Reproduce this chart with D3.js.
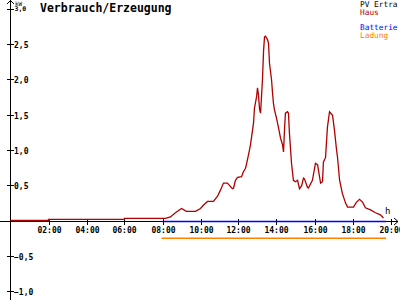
<!DOCTYPE html>
<html><head><meta charset="utf-8">
<script src="https://cdn.jsdelivr.net/npm/d3@7"></script>
<style>html,body{margin:0;padding:0;background:#fff;}svg{display:block;}</style>
</head><body>
<script>
// ---- data ----
const hausTime = [0,2,2,6,6,8.16,8.42,8.68,9.0,9.26,9.74,10.0,10.16,10.37,10.68,10.89,11.05,11.21,11.42,11.58,11.68,11.74,11.84,11.95,12.16,12.26,12.37,12.47,12.58,12.63,12.79,12.84,12.95,13.0,13.05,13.11,13.16,13.21,13.26,13.32,13.37,13.42,13.53,13.58,13.63,13.74,13.79,13.84,13.89,14.0,14.11,14.21,14.32,14.37,14.42,14.47,14.58,14.63,14.68,14.79,14.89,15.0,15.11,15.21,15.32,15.42,15.47,15.63,15.68,15.89,16.05,16.16,16.32,16.42,16.47,16.58,16.68,16.79,16.95,17.05,17.16,17.21,17.32,17.47,17.63,17.74,18.05,18.21,18.37,18.53,18.68,18.95,19.21,19.47,19.63];
const hausKW   = [0,0,0.015,0.015,0.03,0.03,0.05,0.11,0.17,0.13,0.13,0.17,0.22,0.27,0.27,0.34,0.43,0.53,0.53,0.48,0.45,0.46,0.57,0.61,0.62,0.69,0.74,0.86,1.0,1.07,1.38,1.59,1.75,1.88,1.78,1.57,1.52,1.75,1.99,2.41,2.6,2.61,2.56,2.51,2.23,1.99,1.81,1.66,1.57,1.45,1.31,1.17,1.07,0.97,1.28,1.52,1.54,1.52,1.24,0.81,0.57,0.55,0.57,0.45,0.49,0.6,0.59,0.47,0.46,0.57,0.81,0.79,0.53,0.55,0.83,0.89,1.32,1.54,1.49,1.28,1.0,0.9,0.57,0.38,0.25,0.19,0.19,0.26,0.3,0.26,0.18,0.15,0.11,0.08,0.035];
const batterieTime = [8.0, 19.77];
const batterieKW   = [0, 0];
const ladungTime = [7.95, 19.77];
const ladungKW   = [-0.25, -0.25];
const yTicks = [-1.0,-0.5,0.5,1.0,1.5,2.0,2.5,3.0];
const xTicks = [2,4,6,8,10,12,14,16,18,20];
const legendNames = ["PV Ertra","Haus","Batterie","Ladung"];
const legendColors = ["#000000","#b00000","#0000ff","#ff8000"];
const title = "Verbrauch/Erzeugung";

// ---- chart ----
const W=400,H=300;
const svg=d3.select("body").append("svg").attr("width",W).attr("height",H);
const x=d3.scaleLinear().domain([0,20]).range([10.5,390.5]);
const y=d3.scaleLinear().domain([-1,3]).range([291.1,8.7]);
const mono="'DejaVu Sans Mono', monospace";

// axes
const ax=svg.append("g").attr("stroke","#000").attr("stroke-width",1).attr("shape-rendering","crispEdges");
ax.append("line").attr("x1",10.5).attr("x2",10.5).attr("y1",0).attr("y2",H);
const y0=Math.round(y(0))+0.5;
ax.append("line").attr("x1",0).attr("x2",398).attr("y1",y0).attr("y2",y0);
// arrows
svg.append("path").attr("d","M7,4L10.5,0.5L14,4").attr("fill","none").attr("stroke","#000");
svg.append("path").attr("d",`M394,${y0-3.5}L398,${y0}L394,${y0+3.5}`).attr("fill","none").attr("stroke","#000");

// y ticks
yTicks.forEach(v=>{
  const yy=Math.round(y(v))+0.5;
  ax.append("line").attr("x1",7).attr("x2",14).attr("y1",yy).attr("y2",yy);
  if(v!==3) svg.append("text").attr("x",14).attr("y",yy+3).attr("font-family",mono).attr("font-size",8).attr("font-weight","bold")
    .text(d3.format(".1f")(v).replace(".",","));
});
// x ticks
xTicks.forEach(t=>{
  const xx=Math.round(x(t))+0.5;
  ax.append("line").attr("x1",xx).attr("x2",xx).attr("y1",y0-3).attr("y2",y0+3);
  svg.append("text").attr("x",xx).attr("y",y0+11).attr("text-anchor","middle").attr("font-family",mono).attr("font-size",8).attr("font-weight","bold")
    .text(String(t).padStart(2,"0")+":00");
});
// top label kW / 3,0
svg.append("text").attr("x",15).attr("y",5.5).attr("font-family",mono).attr("font-size",6).text("kW");
svg.append("text").attr("x",14.5).attr("y",11).attr("font-family",mono).attr("font-size",6.5).attr("font-weight","bold").text("3,0");
svg.append("text").attr("x",385).attr("y",214).attr("font-family",mono).attr("font-size",9).text("h");

// title
svg.append("text").attr("x",40).attr("y",11.5).attr("font-family",mono).attr("font-size",11.5).attr("font-weight","bold").text(title);

// series
const line=d3.line().x(d=>x(d[0])).y(d=>y(d[1]));
svg.append("path").datum(ladungTime.map((t,i)=>[t,ladungKW[i]])).attr("d",line).attr("fill","none").attr("stroke",legendColors[3]).attr("stroke-width",1.5);
svg.append("path").datum(batterieTime.map((t,i)=>[t,batterieKW[i]])).attr("d",d3.line().x(d=>x(d[0])).y(d=>y0)).attr("fill","none").attr("stroke",legendColors[2]).attr("stroke-width",1.3);
svg.append("path").datum(hausTime.map((t,i)=>[t,hausKW[i]])).attr("d",line).attr("fill","none").attr("stroke",legendColors[1]).attr("stroke-width",1.3);

// legend
const ly=[7,15,30,38];
legendNames.forEach((n,i)=>{
  svg.append("text").attr("x",360).attr("y",ly[i]).attr("font-family",mono).attr("font-size",7.8).attr("fill",legendColors[i]).text(n);
});
</script>
</body></html>
